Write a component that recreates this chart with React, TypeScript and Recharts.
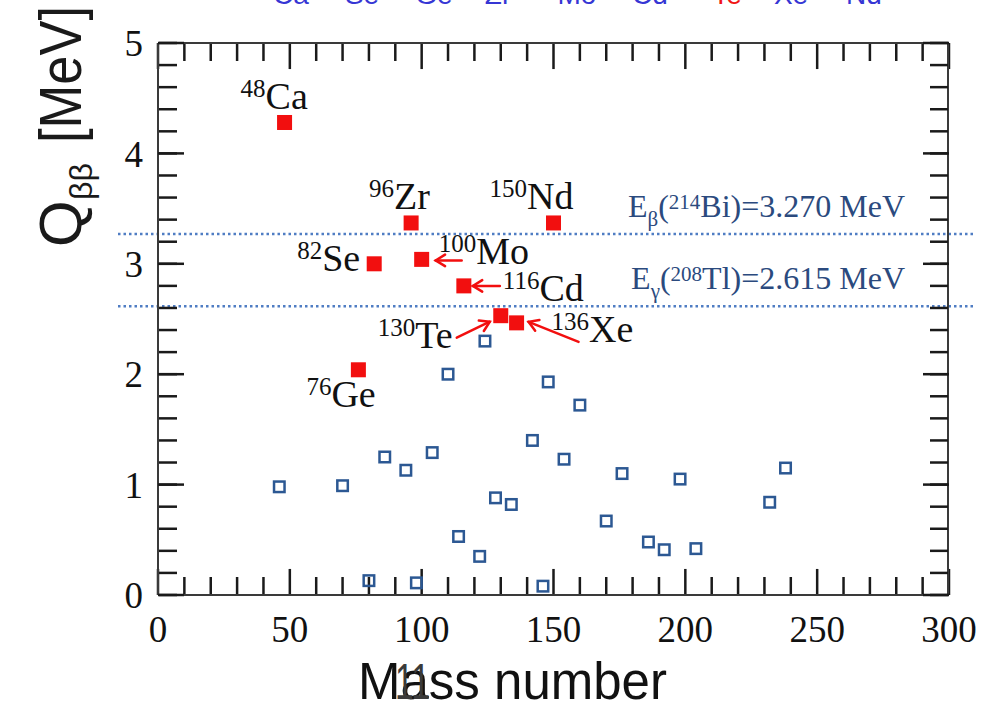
import React from "react";
import { ScatterChart, Scatter, XAxis, YAxis, ReferenceLine } from "recharts";

// double-beta candidates (filled red)
const dbdNames = ["Ca", "Ge", "Se", "Zr", "Mo", "Cd", "Te", "Xe", "Nd"];
const dbdMassLabels = ["48", "76", "82", "96", "100", "116", "130", "136", "150"];
const dbdMass = [48, 76, 82, 96, 100, 116, 130, 136, 150];
const dbdQ = [4.28, 2.04, 3.0, 3.37, 3.04, 2.8, 2.53, 2.465, 3.37];

// other isotopes (open blue)
const otherMass = [46, 70, 80, 86, 94, 98, 104, 110, 114, 122, 124, 128, 134, 142, 146, 148, 154, 160, 170, 176, 186, 192, 198, 204, 232, 238];
const otherQ = [0.98, 0.99, 0.13, 1.25, 1.13, 0.11, 1.29, 2.0, 0.53, 0.35, 2.3, 0.88, 0.82, 1.4, 0.08, 1.93, 1.23, 1.72, 0.67, 1.1, 0.48, 0.41, 1.05, 0.42, 0.84, 1.15];

// background lines
const bgEnergy = [3.27, 2.615];
const bgSub = ["β", "γ"];
const bgMass = ["214", "208"];
const bgElem = ["Bi", "Tl"];
const bgValue = ["=3.270 MeV", "=2.615 MeV"];

const xMajorTicks = [0, 50, 100, 150, 200, 250, 300];
const xMinorTicks = [0, 10, 20, 30, 40, 50, 60, 70, 80, 90, 100, 110, 120, 130, 140, 150, 160, 170, 180, 190, 200, 210, 220, 230, 240, 250, 260, 270, 280, 290, 300];
const yMajorTicks = [0, 1, 2, 3, 4, 5];
const yMinorTicks = [0, 0.2, 0.4, 0.6, 0.8, 1, 1.2, 1.4, 1.6, 1.8, 2, 2.2, 2.4, 2.6, 2.8, 3, 3.2, 3.4, 3.6, 3.8, 4, 4.2, 4.4, 4.6, 4.8, 5];

// half-visible header row at the very top
const headerNames = ["Ca", "Se", "Ge", "Zr", "Mo", "Cd", "Te", "Xe", "Nd"];
const headerX = [291, 362, 434, 498, 577, 650, 727, 791, 864];

const dbdData = dbdNames.map((n, i) => ({ name: n, mass: dbdMass[i], q: dbdQ[i], label: dbdMassLabels[i] }));
const otherData = otherMass.map((m, i) => ({ mass: m, q: otherQ[i] }));

// label placement relative to the point, px
const labelOffsets: Record<string, [number, number]> = {
  Ca: [-44, -13],
  Ge: [-52, 37],
  Se: [-77, 7],
  Zr: [-42, -14],
  Mo: [17, 5],
  Cd: [39, 15],
  Te: [-123, 32],
  Xe: [35, 19],
  Nd: [-64, -14],
};
// tail x,y then tip x,y
const arrowOffsets: Record<string, [number, number, number, number]> = {
  Mo: [40, 1, 14, 1],
  Cd: [36, 0, 9, 0],
  Te: [-44, 22, -11, 6],
  Xe: [62, 19, 12, -1],
};

// x tick lengths in axis units (MeV), 18px and 26px
const minorLen = 0.163;
const majorLen = 0.236;

const serif = '"Liberation Serif", "Times New Roman", serif';
const sans = '"Liberation Sans", Arial, sans-serif';
const RED = "#f20f0f";
const BLUE = "#2c5893";
const TICK = "#1a1a1a";

const Nothing = () => <g />;

function Arrow({ x1, y1, x2, y2 }: { x1: number; y1: number; x2: number; y2: number }) {
  const ang = Math.atan2(y2 - y1, x2 - x1);
  const len = 11;
  const a1 = ang + Math.PI - 0.55;
  const a2 = ang + Math.PI + 0.55;
  return (
    <g stroke={RED} strokeWidth={2.5} fill="none" strokeLinecap="round">
      <line x1={x1} y1={y1} x2={x2} y2={y2} />
      <polyline
        points={`${x2 + len * Math.cos(a1)},${y2 + len * Math.sin(a1)} ${x2},${y2} ${x2 + len * Math.cos(a2)},${y2 + len * Math.sin(a2)}`}
      />
    </g>
  );
}

function OpenSquare(props: any) {
  const { cx, cy } = props;
  if (cx == null || cy == null) return <g />;
  return <rect x={cx - 5.25} y={cy - 5.25} width={10.5} height={10.5} fill="none" stroke={BLUE} strokeWidth={2.5} />;
}

function Candidate(props: any) {
  const { cx, cy, payload } = props;
  if (cx == null || cy == null) return <g />;
  const off = labelOffsets[payload.name] || [10, -10];
  const arr = arrowOffsets[payload.name];
  return (
    <g>
      <rect x={cx - 7.5} y={cy - 7.5} width={15} height={15} fill={RED} />
      {arr && <Arrow x1={cx + arr[0]} y1={cy + arr[1]} x2={cx + arr[2]} y2={cy + arr[3]} />}
      <text x={cx + off[0]} y={cy + off[1]} fontFamily={serif} fill="#111">
        <tspan fontSize={25} dy={-12}>{payload.label}</tspan>
        <tspan fontSize={38} dy={12}>{payload.name}</tspan>
      </text>
    </g>
  );
}

function BgLine(i: number) {
  return (props: any) => {
    const { x1, x2, y1 } = props;
    return (
      <g>
        <line x1={x1 - 40} x2={x2 + 26} y1={y1} y2={y1} stroke="#4f7dc3" strokeWidth={2.5} strokeDasharray="2.5 3" />
        <text x={x2 - 44} y={y1 - 17} textAnchor="end" fontFamily={serif} fill="#2b4a7e">
          <tspan fontSize={32}>E</tspan>
          <tspan fontSize={21} dy={9}>{bgSub[i]}</tspan>
          <tspan fontSize={32} dy={-9}>(</tspan>
          <tspan fontSize={21} dy={-8}>{bgMass[i]}</tspan>
          <tspan fontSize={32} dy={8}>{bgElem[i]}){bgValue[i]}</tspan>
        </text>
      </g>
    );
  };
}

const frame = { stroke: "#3a3a3a", strokeWidth: 2 };
const tickLine = { stroke: TICK, strokeWidth: 2.5 };
const tickFont = { fontFamily: serif, fontSize: 37, fill: "#111" };

export default function App() {
  return (
    <div style={{ position: "absolute", left: 0, top: 0, width: 999, height: 707, background: "#fff", overflow: "hidden" }}>
      <ScatterChart width={999} height={707} margin={{ top: 43, right: 50, bottom: 111, left: 157 }}>
        <XAxis xAxisId="main" type="number" dataKey="mass" domain={[0, 300]} allowDataOverflow ticks={xMajorTicks} interval={0}
          height={1} tickSize={0} tickMargin={21} tickLine={false} axisLine={frame} tick={tickFont} />
        <XAxis xAxisId="top" type="number" domain={[0, 300]} allowDataOverflow ticks={xMajorTicks} interval={0}
          orientation="top" mirror height={1} tickSize={0} tickLine={false} axisLine={frame} tick={Nothing} />

        <YAxis yAxisId="main" type="number" dataKey="q" domain={[0, 5]} allowDataOverflow ticks={yMajorTicks} interval={0}
          width={1} tickSize={0} tickMargin={15} tickLine={false} axisLine={frame} tick={tickFont} />
        <YAxis yAxisId="lMinor" type="number" domain={[0, 5]} allowDataOverflow ticks={yMinorTicks} interval={0}
          orientation="left" mirror width={1} tickSize={18} tickLine={tickLine} axisLine={false} tick={Nothing} />
        <YAxis yAxisId="lMajor" type="number" domain={[0, 5]} allowDataOverflow ticks={yMajorTicks} interval={0}
          orientation="left" mirror width={1} tickSize={26} tickLine={tickLine} axisLine={false} tick={Nothing} />
        <YAxis yAxisId="rMinor" type="number" domain={[0, 5]} allowDataOverflow ticks={yMinorTicks} interval={0}
          orientation="right" mirror width={1} tickSize={18} tickLine={tickLine} axisLine={frame} tick={Nothing} />
        <YAxis yAxisId="rMajor" type="number" domain={[0, 5]} allowDataOverflow ticks={yMajorTicks} interval={0}
          orientation="right" mirror width={1} tickSize={26} tickLine={tickLine} axisLine={false} tick={Nothing} />

        {/* inward x ticks, bottom and top */}
        {xMinorTicks.map((v) => {
          const len = xMajorTicks.includes(v) ? majorLen : minorLen;
          return (
            <ReferenceLine key={`b${v}`} xAxisId="main" yAxisId="main" ifOverflow="visible"
              segment={[{ x: v, y: 0 }, { x: v, y: len }]} stroke={TICK} strokeWidth={2.5} />
          );
        })}
        {xMinorTicks.map((v) => {
          const len = xMajorTicks.includes(v) ? majorLen : minorLen;
          return (
            <ReferenceLine key={`t${v}`} xAxisId="main" yAxisId="main" ifOverflow="visible"
              segment={[{ x: v, y: 5 }, { x: v, y: 5 - len }]} stroke={TICK} strokeWidth={2.5} />
          );
        })}

        {bgEnergy.map((e, i) => (
          <ReferenceLine key={e} xAxisId="main" yAxisId="main" y={e} shape={BgLine(i)} />
        ))}

        <Scatter xAxisId="main" yAxisId="main" data={otherData} shape={OpenSquare} isAnimationActive={false} />
        <Scatter xAxisId="main" yAxisId="main" data={dbdData} shape={Candidate} isAnimationActive={false} />
      </ScatterChart>

      <svg width={999} height={707} style={{ position: "absolute", left: 0, top: 0, pointerEvents: "none" }}>
        {headerNames.map((n, i) => (
          <text key={n} x={headerX[i]} y={4} textAnchor="middle" fontFamily={sans} fontSize={28}
            fill={n === "Te" ? "#f01515" : "#3636d4"}>
            {n}
          </text>
        ))}
        <g transform="translate(81,247) rotate(-90)" fontFamily={sans} fill="#1a1a1a">
          <text x={0} y={0} fontSize={60}>Q</text>
          <text x={47} y={11} fontSize={32}>ββ</text>
          <text x={104} y={0} fontSize={60} textLength={137} lengthAdjust="spacingAndGlyphs">[MeV]</text>
        </g>
        <text x={358} y={699} fontFamily={sans} fontSize={51} fill="#111">Mass number</text>
        <text x={395} y={699} fontFamily={sans} fontSize={50} fill="#3a3a3a" textLength={35} lengthAdjust="spacingAndGlyphs">11</text>
      </svg>
    </div>
  );
}
